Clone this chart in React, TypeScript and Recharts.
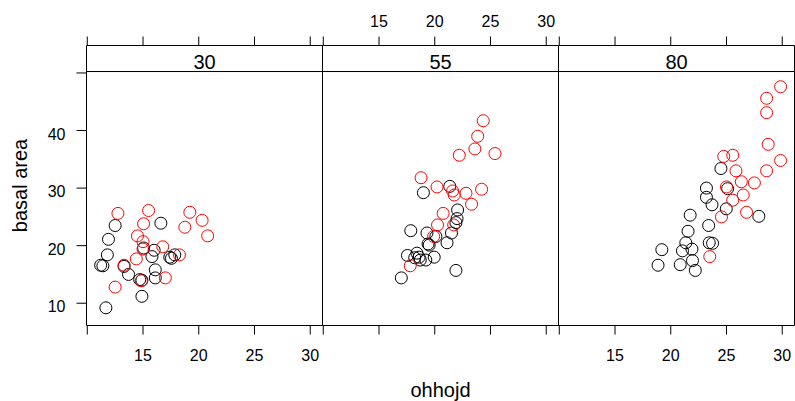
import React from 'react';
import { ScatterChart, Scatter, XAxis, YAxis, ReferenceArea } from 'recharts';

const panelLabels = ['30', '55', '80'];
const xTicks = [10, 15, 20, 25, 30];
const yTicks = [10, 20, 30, 40, 50];

const black30 = [
  { x: 11.67, y: 9.2 }, { x: 14.9, y: 11.2 }, { x: 14.7, y: 14.1 }, { x: 14.9, y: 14.0 },
  { x: 13.7, y: 15.0 }, { x: 13.3, y: 16.4 }, { x: 11.2, y: 16.6 }, { x: 11.4, y: 16.5 },
  { x: 11.8, y: 18.4 }, { x: 11.9, y: 21.1 }, { x: 12.5, y: 23.5 }, { x: 16.6, y: 23.9 },
  { x: 15.05, y: 19.6 }, { x: 15.8, y: 18.1 }, { x: 16.0, y: 19.2 }, { x: 16.1, y: 15.8 },
  { x: 16.1, y: 14.4 }, { x: 17.55, y: 17.8 }, { x: 17.85, y: 18.4 }, { x: 17.4, y: 18.0 },
];
const red30 = [
  { x: 12.75, y: 25.6 }, { x: 15.5, y: 26.1 }, { x: 15.05, y: 23.8 }, { x: 14.5, y: 21.7 },
  { x: 15.0, y: 20.7 }, { x: 15.0, y: 19.4 }, { x: 16.77, y: 19.8 }, { x: 14.4, y: 17.7 },
  { x: 13.3, y: 16.6 }, { x: 12.5, y: 12.8 }, { x: 17.0, y: 14.4 }, { x: 14.85, y: 13.9 },
  { x: 18.27, y: 18.4 }, { x: 18.75, y: 23.2 }, { x: 19.2, y: 25.8 }, { x: 20.3, y: 24.4 },
  { x: 20.8, y: 21.7 },
];
const black55 = [
  { x: 21.35, y: 30.3 }, { x: 18.98, y: 29.2 }, { x: 22.05, y: 26.2 }, { x: 22.0, y: 24.7 },
  { x: 21.9, y: 24.0 }, { x: 21.5, y: 22.2 }, { x: 21.1, y: 20.5 }, { x: 17.85, y: 22.6 },
  { x: 19.3, y: 22.2 }, { x: 20.1, y: 21.6 }, { x: 19.4, y: 20.3 }, { x: 19.5, y: 20.1 },
  { x: 17.55, y: 18.3 }, { x: 18.4, y: 18.7 }, { x: 18.7, y: 17.5 }, { x: 19.2, y: 17.5 },
  { x: 19.95, y: 18.0 }, { x: 18.2, y: 17.9 }, { x: 17.0, y: 14.4 }, { x: 21.9, y: 15.7 },
  { x: 18.6, y: 18.0 },
];
const red55 = [
  { x: 24.35, y: 41.7 }, { x: 23.85, y: 39.0 }, { x: 23.6, y: 36.8 }, { x: 25.4, y: 36.0 },
  { x: 22.2, y: 35.7 }, { x: 18.77, y: 31.8 }, { x: 20.2, y: 30.2 }, { x: 21.6, y: 29.5 },
  { x: 21.75, y: 28.8 }, { x: 22.8, y: 29.1 }, { x: 24.2, y: 29.8 }, { x: 23.3, y: 27.2 },
  { x: 20.75, y: 25.6 }, { x: 20.25, y: 23.6 }, { x: 21.7, y: 23.6 }, { x: 19.9, y: 21.6 },
  { x: 17.8, y: 16.5 },
];
const black80 = [
  { x: 24.5, y: 33.4 }, { x: 25.1, y: 29.9 }, { x: 23.2, y: 30.0 }, { x: 23.2, y: 28.4 },
  { x: 23.7, y: 27.1 }, { x: 24.98, y: 26.4 }, { x: 27.9, y: 25.1 }, { x: 21.74, y: 25.3 },
  { x: 23.4, y: 23.5 }, { x: 21.55, y: 22.5 }, { x: 23.45, y: 20.5 }, { x: 23.75, y: 20.4 },
  { x: 21.35, y: 20.5 }, { x: 21.9, y: 19.4 }, { x: 21.05, y: 19.1 }, { x: 19.2, y: 19.3 },
  { x: 18.86, y: 16.6 }, { x: 20.85, y: 16.7 }, { x: 21.95, y: 17.4 }, { x: 22.2, y: 15.7 },
];
const red80 = [
  { x: 29.85, y: 47.6 }, { x: 28.6, y: 45.6 }, { x: 28.6, y: 43.1 }, { x: 28.74, y: 37.6 },
  { x: 29.85, y: 34.8 }, { x: 28.6, y: 33.0 }, { x: 24.75, y: 35.5 }, { x: 25.56, y: 35.7 },
  { x: 25.85, y: 33.0 }, { x: 26.33, y: 31.1 }, { x: 27.5, y: 30.9 }, { x: 25.0, y: 30.2 },
  { x: 26.5, y: 28.8 }, { x: 25.56, y: 27.9 }, { x: 26.8, y: 25.8 }, { x: 24.55, y: 25.0 },
  { x: 23.5, y: 18.1 },
];

const blackSets = [black30, black55, black80];
const redSets = [red30, red55, red80];

const X_MIN = 9.93;
const X_MAX = 31.1;
const Y_MIN = 6.13;
const Y_PANEL_TOP = 50.25;
const Y_STRIP_TOP = 54.77;

const FONT = '"Liberation Sans", Arial, sans-serif';
const PANEL_LEFTS = [86.5, 322.5, 558.5];
const PANEL_W = 236;

const ring = (color: string) => (props: any) => (
  <circle cx={props.cx} cy={props.cy} r={6} fill="none" stroke={color} strokeWidth={1} />
);
const noShape = () => <g />;

const BottomTick = (props: any) => {
  const { x, y, payload, show } = props;
  if (!show || payload.value === 10) return null;
  return (
    <text x={x} y={y + 11.4} textAnchor="middle" fontSize={16} fontFamily={FONT} fill="#000">
      {payload.value}
    </text>
  );
};

const TopTick = (props: any) => {
  const { x, y, payload, show } = props;
  if (!show || payload.value === 10) return null;
  return (
    <text x={x} y={y + 0.5} textAnchor="middle" fontSize={16} fontFamily={FONT} fill="#000">
      {payload.value}
    </text>
  );
};

const LeftTick = (props: any) => {
  const { x, y, payload } = props;
  if (payload.value === 50) return null;
  return (
    <text x={x} y={y + 9} textAnchor="end" fontSize={16} fontFamily={FONT} fill="#000">
      {payload.value}
    </text>
  );
};

const StripLabel = (props: any) => {
  const vb = props.viewBox || {};
  return (
    <text x={vb.x + vb.width / 2} y={vb.y + 23} textAnchor="middle" fontSize={20} fontFamily={FONT} fill="#000">
      {props.text}
    </text>
  );
};

const XTitle = (props: any) => {
  const vb = props.viewBox || {};
  return (
    <text x={vb.x + vb.width / 2} y={397} textAnchor="middle" fontSize={20} fontFamily={FONT} fill="#000">
      ohhojd
    </text>
  );
};

const YTitle = (props: any) => {
  const vb = props.viewBox || {};
  const cx = 26.5;
  const cy = vb.y + (vb.height || 0) / 2;
  return (
    <text x={cx} y={cy} transform={`rotate(-90, ${cx}, ${cy})`} textAnchor="middle" fontSize={20} fontFamily={FONT} fill="#000">
      basal area
    </text>
  );
};

function Panel({ index }: { index: number }) {
  const left = PANEL_LEFTS[index];
  const showY = index === 0;
  const right = 795 - left - PANEL_W;
  const allPoints = [...blackSets[index], ...redSets[index]];
  return (
    <div style={{ position: 'absolute', left: 0, top: 0 }}>
      <ScatterChart
        width={795}
        height={401}
        margin={{ top: 0.5, bottom: 0, left: showY ? 0 : left, right: right }}
      >
        <XAxis
          xAxisId="b"
          type="number"
          dataKey="x"
          domain={[X_MIN, X_MAX]}
          ticks={xTicks}
          interval={0}
          allowDataOverflow
          orientation="bottom"
          height={75.5}
          axisLine={false}
          tickLine={{ stroke: '#000', strokeWidth: 1 }}
          tickSize={9}
          tickMargin={15}
          tick={<BottomTick show={index !== 1} />}
          label={index === 1 ? <XTitle /> : undefined}
        />
        <XAxis
          xAxisId="t"
          type="number"
          dataKey="x"
          domain={[X_MIN, X_MAX]}
          ticks={xTicks}
          interval={0}
          allowDataOverflow
          orientation="top"
          height={45}
          axisLine={false}
          tickLine={{ stroke: '#000', strokeWidth: 1 }}
          tickSize={9}
          tickMargin={10}
          tick={<TopTick show={index === 1} />}
        />
        <YAxis
          type="number"
          dataKey="y"
          domain={[Y_MIN, Y_STRIP_TOP]}
          ticks={yTicks}
          interval={0}
          allowDataOverflow
          hide={!showY}
          width={86.5}
          axisLine={false}
          tickLine={{ stroke: '#000', strokeWidth: 1 }}
          tickSize={10}
          tickMargin={11}
          tick={<LeftTick />}
          label={showY ? <YTitle /> : undefined}
        />
        <ReferenceArea
          xAxisId="b"
          x1={X_MIN}
          x2={X_MAX}
          y1={Y_MIN}
          y2={Y_PANEL_TOP}
          fill="none"
          fillOpacity={0}
          stroke="#000"
          strokeWidth={1}
          ifOverflow="visible"
        />
        <ReferenceArea
          xAxisId="b"
          x1={X_MIN}
          x2={X_MAX}
          y1={Y_PANEL_TOP}
          y2={Y_STRIP_TOP}
          fill="#fff"
          fillOpacity={0}
          stroke="#000"
          strokeWidth={1}
          ifOverflow="visible"
          label={<StripLabel text={panelLabels[index]} />}
        />
        <Scatter
          xAxisId="t"
          data={allPoints}
          shape={noShape}
          isAnimationActive={false}
        />
        <Scatter
          xAxisId="b"
          data={blackSets[index]}
          shape={ring('#000000')}
          isAnimationActive={false}
        />
        <Scatter
          xAxisId="b"
          data={redSets[index]}
          shape={ring('#ff0000')}
          isAnimationActive={false}
        />
      </ScatterChart>
    </div>
  );
}

export default function App() {
  return (
    <div
      style={{
        position: 'absolute',
        left: 0,
        top: 0,
        width: 795,
        height: 401,
        background: '#fff',
        fontFamily: FONT,
        overflow: 'hidden',
      }}
    >
      <Panel index={0} />
      <Panel index={1} />
      <Panel index={2} />
    </div>
  );
}
